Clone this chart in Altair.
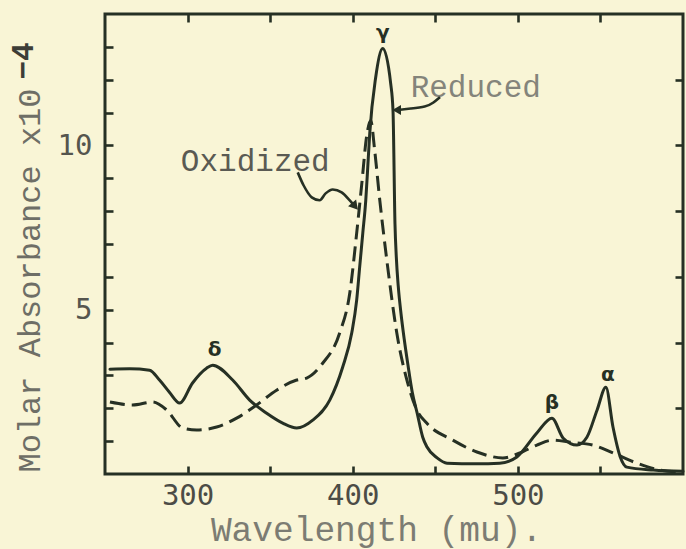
import altair as alt
import pandas as pd

# Cytochrome absorption spectrum, reduced form (solid line)
red_wl = [253, 265, 277, 283, 289, 295.2, 303, 311.5, 315.2, 327.3, 337.6, 347.9,
          357.6, 366.1, 375.8, 386.1, 393.9, 399.4, 402.4, 404.2, 406.1, 407.9,
          409.1, 410.3, 413.9, 418.2, 423.0, 424.4, 425.6, 426.4, 427.6, 429.2,
          431.2, 433.5, 436.0, 439.0, 442.4, 445.0, 451.1, 457.1, 475, 489, 499.4,
          511.5, 520.6, 527.5, 535.8, 541.8, 548, 553.3, 557.6, 562, 566, 582, 600]
red_ab = [3.19, 3.2, 3.16, 2.86, 2.49, 2.16, 2.77, 3.22, 3.31, 2.86, 2.25, 1.85,
          1.55, 1.40, 1.64, 2.25, 3.25, 4.29, 5.29, 6.29, 7.33, 8.33,
          9.33, 10.36, 12.07, 12.95, 11.88, 11.06, 7.6, 6.6, 5.7, 4.9,
          4.1, 3.3, 2.5, 1.86, 1.12, 0.82, 0.49, 0.33, 0.31, 0.33, 0.52,
          1.25, 1.7, 1.09, 0.88, 1.12, 1.95, 2.64, 1.43, 0.52, 0.21, 0.12, 0.08]

# Oxidized form (dashed line)
ox_wl = [253, 266.7, 278.8, 287.3, 297.0, 305.5, 317.6, 329.7, 341.8, 353.9,
         366.1, 372.1, 381.8, 392.1, 398.2, 402.4, 405.5, 408.5, 410.9, 413.3,
         416.4, 421.2, 426.7, 433.3, 438.8, 444.8, 460.6, 475.2, 490.9, 501.2,
         511.5, 521.2, 531.5, 545.5, 557.6, 572.1, 586.1, 599.4]
ox_ab = [2.19, 2.10, 2.19, 1.95, 1.40, 1.34, 1.43, 1.70, 2.10, 2.55,
         2.86, 2.92, 3.37, 4.29, 5.50, 7.33, 8.84, 10.30, 10.76, 9.85,
         8.33, 6.29, 4.29, 2.77, 1.95, 1.55, 1.03, 0.67, 0.49, 0.64,
         0.88, 1.03, 0.97, 0.88, 0.64, 0.33, 0.12, 0.06]

# Frame ticks and axis labels
x_tick_values = [300, 350, 400, 450, 500, 550]
x_label_values = [300, 400, 500]
y_left_ticks = [1, 2, 3, 4, 5, 6, 7, 8, 9, 10, 11, 12, 13]
y_right_ticks = [2, 4, 6, 8, 10, 12]
y_label_values = [5, 10]

# Band names over the peaks
band_names = ["δ", "γ", "β", "α"]
band_wl = [316.4, 418.2, 520.6, 554.5]
band_ab = [3.77, 13.42, 2.16, 3.0]

# Curve names and their pointer arrows
ox_label, ox_label_wl, ox_label_ab = "Oxidized", 341.0, 9.50
red_label, red_label_wl, red_label_ab = "Reduced", 474.5, 11.75

ox_arrow_wl = [366.7, 370.3, 375.2, 380.0, 383.6, 387.9, 393.3, 398.2, 400.8]
ox_arrow_ab = [9.18, 8.78, 8.42, 8.33, 8.54, 8.66, 8.57, 8.33, 8.18]
red_arrow_wl = [452.9, 449.0, 444.4, 434.7, 427.5]
red_arrow_ab = [11.47, 11.30, 11.17, 11.12, 11.08]

X_MIN, X_MAX = 250, 600
Y_MIN, Y_MAX = 0, 14
TICK_LEN = 8    # inward tick length in pixels

INK = "#263024"
PAPER = "#f9f5d6"
MONO = "Liberation Mono"

xscale = alt.Scale(domain=[X_MIN, X_MAX], nice=False, zero=False)
yscale = alt.Scale(domain=[Y_MIN, Y_MAX], nice=False, zero=False)


def label_filter(values):
    test = " || ".join(f"datum.value == {v}" for v in values)
    return f"({test}) ? datum.label : ''"


# Axes are pulled inside the frame by the tick length so the ticks point inward
tick_style = dict(ticks=True, tickSize=TICK_LEN, tickWidth=2.6, tickColor=INK,
                  tickCap="butt", domain=False, grid=False,
                  offset=-TICK_LEN, labelOverlap=False)

bottom_axis = alt.Axis(
    values=x_tick_values, labelExpr=label_filter(x_label_values),
    labelFont="DejaVu Sans Mono", labelFontSize=29, labelColor="#4c4c46",
    labelPadding=7, labelFlush=False,
    title="Wavelength (mu).", titleFont=MONO, titleFontSize=34.5,
    titleFontWeight="normal", titleColor="#7c7c73",
    titleX=271, titleY=66 + TICK_LEN, titleAlign="center",
    titleBaseline="alphabetic", titleAnchor="start", **tick_style)
left_axis = alt.Axis(
    values=y_left_ticks, labelExpr=label_filter(y_label_values),
    labelFont="DejaVu Sans Mono", labelFontSize=29, labelColor="#55554e",
    labelPadding=13, labelFlush=False,
    title="Molar Absorbance x10", titleFont=MONO, titleFontSize=32,
    titleFontWeight="normal", titleColor="#6e6e66",
    titleAngle=270, titleX=-66 - TICK_LEN, titleY=266, titleAlign="center",
    titleBaseline="alphabetic", titleAnchor="start", **tick_style)
top_axis = alt.Axis(orient="top", values=x_tick_values, labels=False,
                    title="", **tick_style)
right_axis = alt.Axis(orient="right", values=y_right_ticks, labels=False,
                      title="", **tick_style)


def X(field, axis=None):
    return alt.X(field, type="quantitative", scale=xscale, axis=axis)


def Y(field, axis=None):
    return alt.Y(field, type="quantitative", scale=yscale, axis=axis)


red_df = pd.DataFrame({"wl": red_wl, "ab": red_ab})
ox_df = pd.DataFrame({"wl": ox_wl, "ab": ox_ab})

reduced = alt.Chart(red_df).mark_line(
    color=INK, strokeWidth=3, interpolate="monotone", strokeCap="round"
).encode(x=X("wl", bottom_axis), y=Y("ab", left_axis))

oxidized = alt.Chart(ox_df).mark_line(
    color=INK, strokeWidth=3, interpolate="monotone", strokeDash=[15, 7]
).encode(x=X("wl", top_axis), y=Y("ab", right_axis))

bands = alt.Chart(pd.DataFrame({"name": band_names, "wl": band_wl,
                                "ab": band_ab})).mark_text(
    font="DejaVu Sans", fontSize=20, fontWeight="bold", color=INK,
    align="center", baseline="middle"
).encode(x=X("wl"), y=Y("ab"), text="name:N")

ox_text = alt.Chart(pd.DataFrame({"name": [ox_label], "wl": [ox_label_wl],
                                  "ab": [ox_label_ab]})).mark_text(
    font=MONO, fontSize=31, color="#5a5a53", align="center", baseline="middle"
).encode(x=X("wl"), y=Y("ab"), text="name:N")
red_text = alt.Chart(pd.DataFrame({"name": [red_label], "wl": [red_label_wl],
                                   "ab": [red_label_ab]})).mark_text(
    font=MONO, fontSize=31, color="#84847b", align="center", baseline="middle"
).encode(x=X("wl"), y=Y("ab"), text="name:N")

ox_arrow_df = pd.DataFrame({"wl": ox_arrow_wl, "ab": ox_arrow_ab,
                            "i": list(range(len(ox_arrow_wl)))})
red_arrow_df = pd.DataFrame({"wl": red_arrow_wl, "ab": red_arrow_ab,
                             "i": list(range(len(red_arrow_wl)))})

ox_arrow = alt.Chart(ox_arrow_df).mark_line(
    color=INK, strokeWidth=2.6, interpolate="monotone").encode(
    x=X("wl"), y=Y("ab"), order="i:Q")
red_arrow = alt.Chart(red_arrow_df).mark_line(
    color=INK, strokeWidth=2.6, interpolate="basis").encode(
    x=X("wl"), y=Y("ab"), order="i:Q")

ox_head = alt.Chart(ox_arrow_df.tail(1)).mark_point(
    shape="triangle", filled=True, color=INK, opacity=1, size=110, angle=140
).encode(x=X("wl"), y=Y("ab"))
red_head = alt.Chart(red_arrow_df.tail(1)).mark_point(
    shape="triangle", filled=True, color=INK, opacity=1, size=100, angle=270
).encode(x=X("wl"), y=Y("ab"))

# Exponent of the absorbance scale, raised beside the axis title
exponent = alt.Chart(pd.DataFrame({"t": ["−4"], "wl": [201.0],
                                   "ab": [12.57]})).mark_text(
    font=MONO, fontSize=31, fontWeight="bold", color="#3d3d37", angle=270,
    align="center", baseline="middle"
).encode(x=X("wl"), y=Y("ab"), text="t:N")

chart = alt.layer(
    reduced, oxidized, bands, ox_text, red_text,
    ox_arrow, red_arrow, ox_head, red_head, exponent
).resolve_axis(
    x="independent", y="independent"
).properties(
    width=578, height=460,
    padding={"left": 105, "top": 14, "right": 3, "bottom": 75},
    autosize=alt.AutoSizeParams(type="none"),
    background=PAPER,
).configure_view(
    stroke=INK, strokeWidth=3, clip=False
)

chart.save("out.html", embed_options={"renderer": "svg", "actions": False})
